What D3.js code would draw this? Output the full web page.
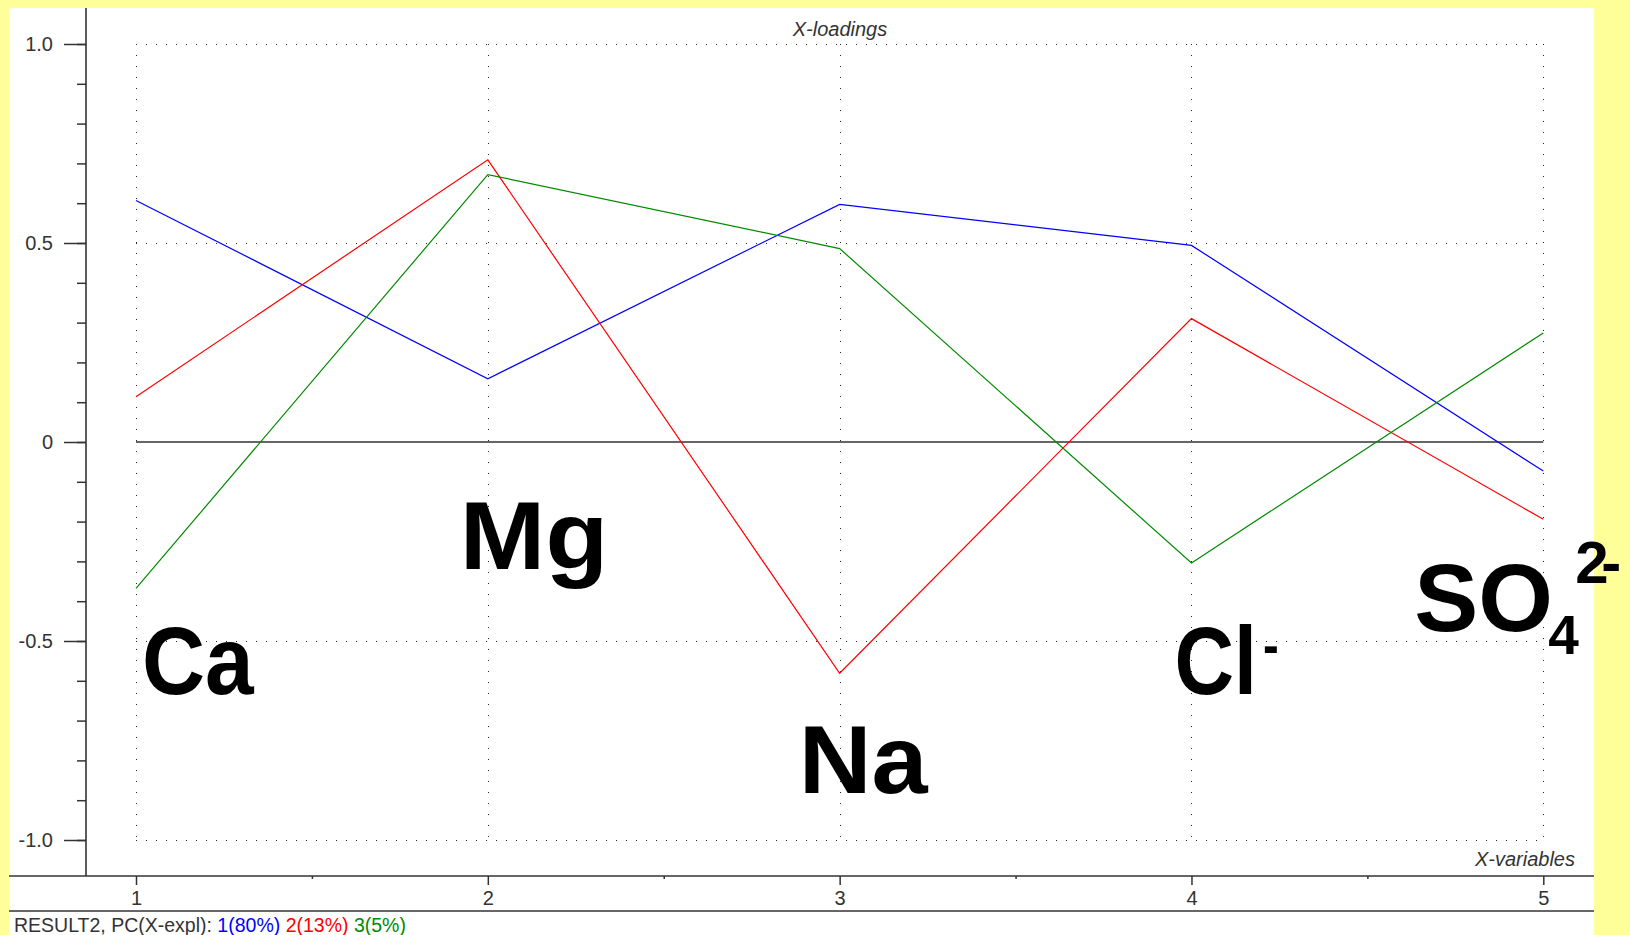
<!DOCTYPE html>
<meta charset="utf-8">

<style>
    body { margin: 0; background: #ffff99; }
    svg { display: block; }
    text { font-family: "Liberation Sans", Arial, sans-serif; }
    .tick text { font-size: 20px; fill: #333; }
    .tick line { stroke: #333; stroke-width: 1.5px; }
    .grid line { stroke: #222; stroke-width: 1px; }
    .big { font-weight: bold; fill: #000; }
</style>

<body>
<svg width="1630" height="935"></svg>

<script src="https://d3js.org/d3.v7.min.js"></script>
<script>

    // x-variables and the three loadings (PC1, PC2, PC3)
    var variables = [1, 2, 3, 4, 5];
    var pc1 = [0.607, 0.159, 0.597, 0.494, -0.073];
    var pc2 = [0.114, 0.709, -0.581, 0.310, -0.194];
    var pc3 = [-0.368, 0.672, 0.486, -0.304, 0.274];
    var seriesColors = ["#0000ff", "#ff0000", "#008a00"];

    var yMajor = [-1, -0.5, 0, 0.5, 1];
    var yLabels = ["-1.0", "-0.5", "0", "0.5", "1.0"];
    var yMinor = d3.range(-10, 11).map(function (d) { return d / 10; });
    var xMinor = [1.5, 2.5, 3.5, 4.5];

    // big ion labels, the y-value of their baseline, and their charge / subscript
    var ionNames = ["Ca", "Mg", "Na", "Cl", "SO"];
    var ionBase = [-0.632, -0.32, -0.882, -0.632, -0.474];

    var svg = d3.select("svg");
    var x = d3.scaleLinear().domain([1, 5]).range([136, 1543.3]);
    var y = d3.scaleLinear().domain([-1, 1]).range([840, 44]);

    // white panel
    svg.append("rect").attr("x", 9).attr("y", 8).attr("width", 1585).attr("height", 935).attr("fill", "#fff");

    // dotted grid
    var grid = svg.append("g").attr("class", "grid");
    grid.selectAll(".hg").data([-1, -0.5, 0.5, 1]).enter().append("line")
        .attr("x1", x(1)).attr("x2", x(5))
        .attr("y1", function (d) { return Math.round(y(d)) + 0.5; })
        .attr("y2", function (d) { return Math.round(y(d)) + 0.5; })
        .attr("stroke-dasharray", "1,9");
    grid.selectAll(".vg").data(variables).enter().append("line")
        .attr("y1", y(1)).attr("y2", y(-1))
        .attr("x1", function (d) { return Math.round(x(d)) + 0.5; })
        .attr("x2", function (d) { return Math.round(x(d)) + 0.5; })
        .attr("stroke-dasharray", "1,10");

    // zero line
    svg.append("line").attr("x1", x(1)).attr("x2", x(5)).attr("y1", y(0)).attr("y2", y(0))
        .attr("stroke", "#333").attr("stroke-width", 1.6);

    // loadings
    var line = d3.line().x(function (d, i) { return x(variables[i]); }).y(function (d) { return y(d); });
    [pc1, pc2, pc3].forEach(function (s, i) {
        svg.append("path").datum(s).attr("d", line)
            .attr("fill", "none").attr("stroke", seriesColors[i]).attr("stroke-width", 1.2);
    });

    // y axis: minor and major ticks
    svg.append("g").attr("transform", "translate(86,0)")
        .call(d3.axisLeft(y).tickValues(yMinor).tickSize(9).tickFormat(""))
        .call(function (g) { g.select(".domain").remove(); });
    svg.append("g").attr("transform", "translate(86,0)")
        .call(d3.axisLeft(y).tickValues(yMajor).tickSize(22).tickPadding(11)
            .tickFormat(function (d, i) { return yLabels[i]; }))
        .call(function (g) { g.select(".domain").remove(); g.selectAll("text").attr("font-family", null); });

    // x axis
    svg.append("g").attr("transform", "translate(0,876)")
        .call(d3.axisBottom(x).tickValues(xMinor).tickSize(3).tickFormat(""))
        .call(function (g) { g.select(".domain").remove(); });
    svg.append("g").attr("transform", "translate(0,876)")
        .call(d3.axisBottom(x).tickValues(variables).tickSize(9).tickPadding(6).tickFormat(d3.format("d")))
        .call(function (g) { g.select(".domain").remove(); g.selectAll("text").attr("font-family", null); });

    // axis lines
    svg.append("line").attr("x1", 86).attr("x2", 86).attr("y1", 8).attr("y2", 876).attr("stroke", "#333").attr("stroke-width", 1.6);
    svg.append("line").attr("x1", 9).attr("x2", 1594).attr("y1", 876).attr("y2", 876).attr("stroke", "#333").attr("stroke-width", 1.6);
    svg.append("line").attr("x1", 9).attr("x2", 1594).attr("y1", 911).attr("y2", 911).attr("stroke", "#333").attr("stroke-width", 1.6);

    // titles
    svg.append("text").attr("x", 840).attr("y", 36).attr("text-anchor", "middle")
        .attr("font-style", "italic").attr("font-size", 20).attr("fill", "#333").text("X-loadings");
    svg.append("text").attr("x", 1575).attr("y", 866).attr("text-anchor", "end")
        .attr("font-style", "italic").attr("font-size", 20).attr("fill", "#333").text("X-variables");

    var foot = svg.append("text").attr("x", 14).attr("y", 932).attr("font-size", 19.5).attr("fill", "#333");
    foot.append("tspan").text("RESULT2, PC(X-expl): ");
    foot.append("tspan").attr("fill", seriesColors[0]).text("1(80%) ");
    foot.append("tspan").attr("fill", seriesColors[1]).text("2(13%) ");
    foot.append("tspan").attr("fill", seriesColors[2]).text("3(5%)");

    // big ion labels (the reference font is a little narrower / wider per label)
    var ionDx = [6, -28, -41, -17, -129];
    var ionScale = [0.91, 1.07, 1.05, 0.86, 1];
    var ions = svg.selectAll(".ion").data(ionNames).enter().append("g")
        .attr("transform", function (d, i) {
            return "translate(" + (x(variables[i]) + ionDx[i]) + "," + y(ionBase[i]) + ") scale(" + ionScale[i] + ",1)";
        })
        .append("text").attr("class", "big").attr("font-size", 96)
        .text(function (d) { return d; });

    // chloride charge
    d3.select(ions.nodes()[3]).append("tspan").attr("font-size", 55)
        .attr("dx", 7).attr("dy", -30).text("-");
    // sulfate subscript and charge
    var so4 = d3.select(ions.nodes()[4]);
    so4.append("tspan").attr("font-size", 55).attr("dx", -4.7).attr("dy", 23.8).text("4");
    so4.append("tspan").attr("font-size", 60).attr("dx", -3.6).attr("dy", -71.2).text("2");
    so4.append("tspan").attr("font-size", 60).attr("dx", -7.4).attr("dy", 0).text("-");

</script>
</body>
</html>
